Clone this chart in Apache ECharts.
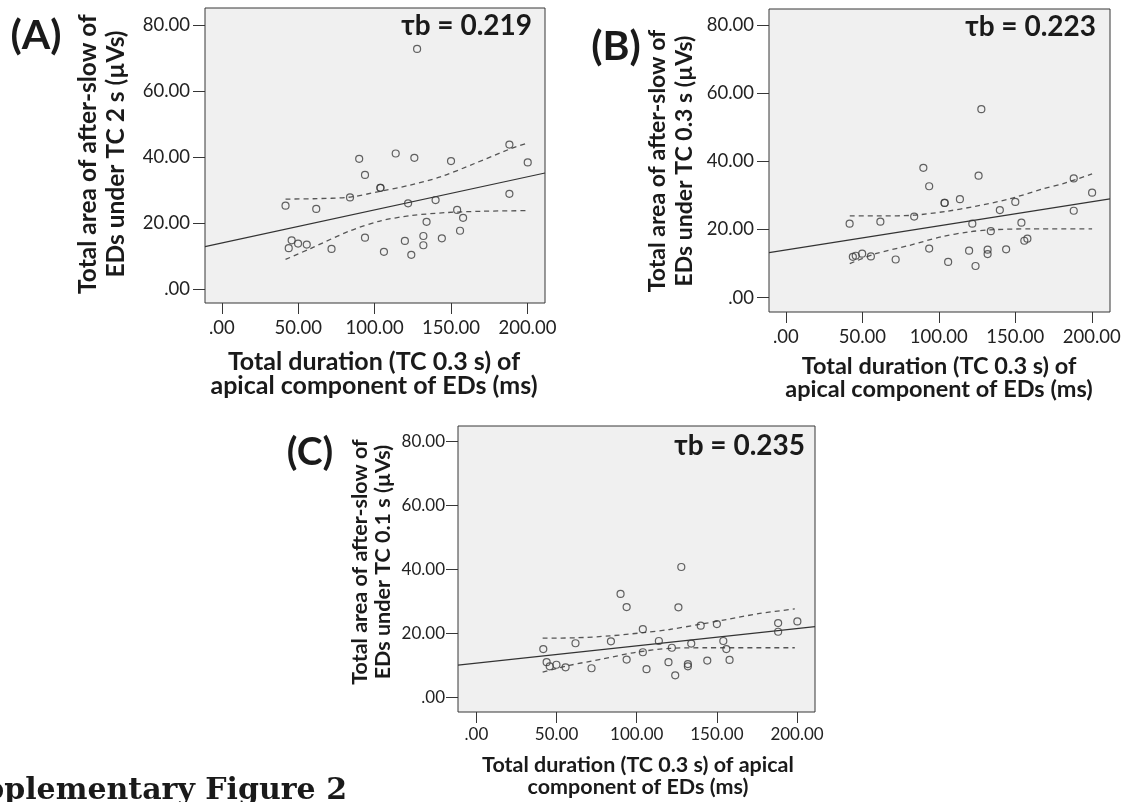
<!DOCTYPE html>
<html>
<head>
<meta charset="utf-8">
<script src="https://cdn.jsdelivr.net/npm/echarts@6/dist/echarts.min.js"></script>
<style>
html,body{margin:0;padding:0;background:#fff;}
#chart{width:1134px;height:802px;}
</style>
</head>
<body>
<div id="chart"></div>
<script>
// Shared x values: total duration (TC 0.3 s) of apical component of EDs (ms)
const durationMs = [41.7, 43.8, 45.7, 49.9, 55.6, 61.8, 71.8, 83.9, 89.9, 93.7, 93.7, 103.8, 103.8, 106.1, 113.8, 119.8, 121.9, 124.0, 126.0, 127.8, 131.9, 131.9, 134.0, 139.9, 144.0, 150.0, 154.0, 155.9, 157.9, 188.2, 188.2, 200.2];
// (A) after-slow area under TC 2 s
const areaTC2s = [25.2, 12.3, 14.7, 13.7, 13.4, 24.2, 12.1, 27.7, 39.4, 34.5, 15.5, 30.6, 30.6, 11.2, 41.0, 14.5, 25.9, 10.3, 39.7, 72.7, 16.0, 13.2, 20.3, 26.9, 15.3, 38.7, 23.9, 17.6, 21.5, 43.7, 28.8, 38.3];
// (B) after-slow area under TC 0.3 s
const areaTC03s = [21.7, 12.0, 12.3, 12.9, 12.1, 22.3, 11.2, 23.8, 38.1, 32.7, 14.4, 27.8, 27.8, 10.5, 28.9, 13.8, 21.7, 9.3, 35.8, 55.3, 14.1, 12.8, 19.5, 25.7, 14.2, 28.1, 22.0, 16.7, 17.3, 35.0, 25.5, 30.8];
// (C) after-slow area under TC 0.1 s
const areaTC01s = [15.1, 11.0, 9.7, 10.2, 9.4, 16.9, 9.1, 17.5, 32.3, 28.2, 11.8, 21.3, 14.1, 8.8, 17.6, 11.0, 15.5, 6.9, 28.1, 40.7, 10.4, 9.7, 16.8, 22.4, 11.5, 22.9, 17.6, 15.1, 11.7, 23.2, 20.5, 23.7];

// Fit lines (endpoints) and 95% CI curves
const fitA = [[-11, 12.8], [211.5, 35.1]];
const ciUpperA = [[41.7, 27.2], [60, 27.3], [84, 27.8], [104, 29.6], [123, 31.4], [143, 33.9], [165, 37.9], [188.7, 42.4], [200.2, 44.2]];
const ciLowerA = [[41.7, 8.9], [58, 12.2], [84, 17.6], [104, 20.6], [124, 22.2], [147, 23.1], [170, 23.5], [200.2, 23.7]];
const fitB = [[-11, 13.2], [211.9, 29.0]];
const ciUpperB = [[41.8, 24.0], [62, 24.0], [83.7, 24.2], [104.3, 25.3], [123.8, 26.8], [145.5, 28.9], [167.2, 31.8], [181.3, 33.5], [200.2, 36.3]];
const ciLowerB = [[41.8, 10.0], [58.7, 12.9], [80.4, 15.3], [102.1, 17.9], [119.5, 19.3], [133.6, 19.9], [160, 20.2], [200.2, 20.2]];
const fitC = [[-11.5, 10.1], [211.2, 22.1]];
const ciUpperC = [[41.3, 18.5], [62, 18.6], [83, 19.2], [103.8, 20.2], [120.5, 21.2], [139.2, 22.8], [155.9, 24.3], [176.8, 26.2], [198.6, 27.6]];
const ciLowerC = [[41.3, 7.9], [58, 10.0], [78.8, 12.0], [99.7, 14.1], [120.5, 15.3], [143.4, 15.5], [198.6, 15.5]];

const xTicks = [0, 50, 100, 150, 200];
const yTicks = [0, 20, 40, 60, 80];
const tauLabels = ['\u03c4b = 0.219', '\u03c4b = 0.223', '\u03c4b = 0.235'];
const panelLabels = ['(A)', '(B)', '(C)'];
const xTitles = ['Total duration (TC 0.3 s) of\napical component of EDs (ms)', 'Total duration (TC 0.3 s) of\napical component of EDs (ms)', 'Total duration (TC 0.3 s) of apical\ncomponent of EDs (ms)'];
const yTitles = ['Total area of after-slow of\nEDs under TC 2 s (\u00b5Vs)', 'Total area of after-slow of\nEDs under TC 0.3 s (\u00b5Vs)', 'Total area of after-slow of\nEDs under TC 0.1 s (\u00b5Vs)'];

const FONT = 'Lato';
const fmt = v => (v === 0 ? '.00' : v.toFixed(2));

const grids = [
  {left: 205, top: 8, width: 340, height: 295},
  {left: 769, top: 9, width: 341, height: 303},
  {left: 458, top: 426, width: 357, height: 286}
];
const xRanges = [[-11, 211.5], [-11, 211.9], [-11.5, 211.2]];
const yRanges = [[-4.3, 85.1], [-4.2, 84.7], [-4.55, 84.7]];
const labelSizes = [18.5, 18.5, 17];
const xLabelMargins = [16, 16, 14];
const yLabelMargins = [15, 15, 13];
const ys = [areaTC2s, areaTC03s, areaTC01s];
const fits = [fitA, fitB, fitC];
const ups = [ciUpperA, ciUpperB, ciUpperC];
const lows = [ciLowerA, ciLowerB, ciLowerC];

const xAxis = [], yAxis = [], series = [];
grids.forEach((g, i) => {
  Object.assign(g, {show: true, backgroundColor: '#f0f0f0', borderColor: '#363636', borderWidth: 1, containLabel: false});
  xAxis.push({
    type: 'value', gridIndex: i, min: xRanges[i][0], max: xRanges[i][1],
    axisLine: {show: false, onZero: false}, splitLine: {show: false},
    axisTick: {show: true, customValues: xTicks, length: 11, lineStyle: {color: '#363636', width: 1}},
    axisLabel: {customValues: xTicks, formatter: fmt, margin: xLabelMargins[i], color: '#222', fontFamily: FONT, fontSize: labelSizes[i]}
  });
  yAxis.push({
    type: 'value', gridIndex: i, min: yRanges[i][0], max: yRanges[i][1],
    axisLine: {show: false, onZero: false}, splitLine: {show: false},
    axisTick: {show: true, customValues: yTicks, length: 12, lineStyle: {color: '#363636', width: 1}},
    axisLabel: {customValues: yTicks, formatter: fmt, margin: yLabelMargins[i], color: '#222', fontFamily: FONT, fontSize: labelSizes[i]}
  });
  series.push({
    type: 'line', xAxisIndex: i, yAxisIndex: i, data: fits[i], symbol: 'none', clip: true,
    lineStyle: {color: '#333', width: 1.2}, silent: true, z: 3
  });
  series.push({
    type: 'line', xAxisIndex: i, yAxisIndex: i, data: ups[i], symbol: 'none', smooth: 0.3,
    lineStyle: {color: '#555', width: 1.3, type: [5, 4]}, silent: true, z: 3
  });
  series.push({
    type: 'line', xAxisIndex: i, yAxisIndex: i, data: lows[i], symbol: 'none', smooth: 0.3,
    lineStyle: {color: '#555', width: 1.3, type: [5, 4]}, silent: true, z: 3
  });
  series.push({
    type: 'scatter', xAxisIndex: i, yAxisIndex: i,
    data: durationMs.map((x, k) => [x, ys[i][k]]),
    symbol: 'circle', symbolSize: 7,
    itemStyle: {color: 'rgba(0,0,0,0)', borderColor: '#3c3c3c', borderWidth: 1.2}, z: 4
  });
});

function txt(text, x, y, size, opts) {
  opts = opts || {};
  return {
    type: 'text', x: x, y: y, rotation: opts.rotation || 0, z: 10,
    style: {
      text: text, fill: '#1a1a1a',
      font: (opts.weight || 'bold') + ' ' + size + 'px ' + (opts.family || FONT),
      align: opts.align || 'center', verticalAlign: opts.valign || 'middle',
      textAlign: opts.align || 'center', textVerticalAlign: opts.valign || 'middle',
      lineHeight: opts.lineHeight || size * 1.1
    }
  };
}

const graphic = [
  txt(panelLabels[0], 36, 36, 41),
  txt(panelLabels[1], 616, 47, 41),
  txt(panelLabels[2], 310, 452, 39),
  txt(tauLabels[0], 532, 26, 28, {align: 'right'}),
  txt(tauLabels[1], 1096, 27, 28, {align: 'right'}),
  txt(tauLabels[2], 805, 446, 28, {align: 'right'}),
  txt(yTitles[0], 102, 154, 24.5, {rotation: Math.PI / 2, lineHeight: 28}),
  txt(yTitles[1], 671, 161, 23, {rotation: Math.PI / 2, lineHeight: 27}),
  txt(yTitles[2], 372, 562, 21.5, {rotation: Math.PI / 2, lineHeight: 23}),
  txt(xTitles[0], 374, 374, 25, {lineHeight: 24}),
  txt(xTitles[1], 939, 378, 23.5, {lineHeight: 23}),
  txt(xTitles[2], 638, 776, 21.5, {lineHeight: 22}),
  txt('Supplementary Figure 2', 347, 808, 30, {align: 'right', valign: 'bottom', family: '"DejaVu Serif"', lineHeight: 34})
];

const chart = echarts.init(document.getElementById('chart'), null, {renderer: 'canvas'});
chart.setOption({
  backgroundColor: '#ffffff',
  animation: false,
  grid: grids,
  xAxis: xAxis,
  yAxis: yAxis,
  series: series,
  graphic: graphic
});
</script>
</body>
</html>
